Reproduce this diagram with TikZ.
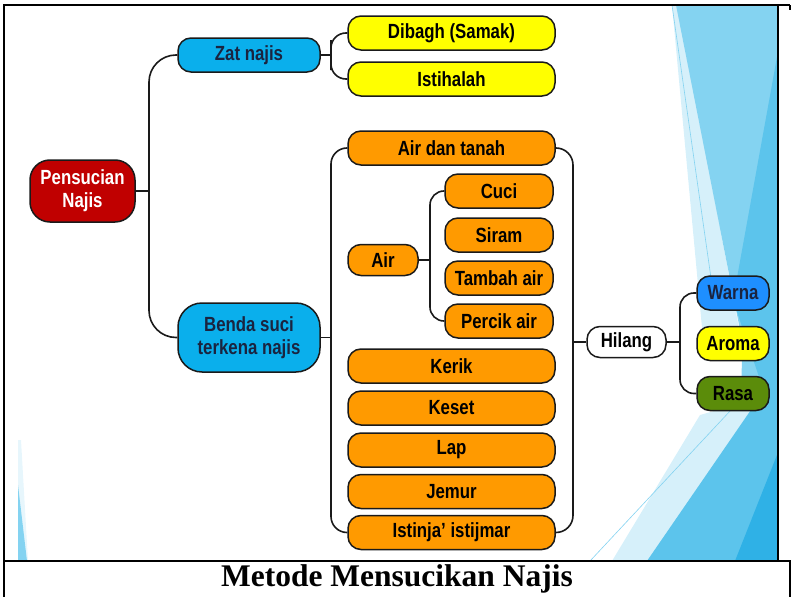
\documentclass[tikz,border=0pt]{standalone}
\usepackage{fontspec}
\usepackage{tikz}
\usetikzlibrary{calc}
\newfontfamily\mapfont[FakeStretch=0.82]{Liberation Sans}
\newfontfamily\capfont{Liberation Serif}
\definecolor{MapInk}{HTML}{1A1A1A}
\definecolor{MapNavy}{HTML}{1A2440}
\definecolor{MapRed}{HTML}{C00000}
\definecolor{MapSky}{HTML}{0AAFEC}
\definecolor{MapYellow}{HTML}{FFFF00}
\definecolor{MapOrange}{HTML}{FF9A00}
\definecolor{MapBlue}{HTML}{1E8FFF}
\definecolor{MapGreen}{HTML}{5B8C0A}
\definecolor{FacetPale}{HTML}{D6F0FA}
\definecolor{FacetLight}{HTML}{84D3F1}
\definecolor{FacetMid}{HTML}{5CC4EC}
\definecolor{FacetDeep}{HTML}{2FB1E6}
\tikzset{
  mapbox/.style={draw=MapInk, line width=1.5pt, rounded corners=13pt, inner sep=0pt,
    font=\mapfont\bfseries\fontsize{20.5}{23}\selectfont, text=black, align=center},
  rootbox/.style={mapbox, fill=MapRed, text=white, rounded corners=20pt},
  catbox/.style={mapbox, fill=MapSky, text=MapNavy},
  samakbox/.style={mapbox, fill=MapYellow, minimum width=207, minimum height=34},
  wayrow/.style={mapbox, fill=MapOrange, minimum width=207, minimum height=34},
  waysub/.style={mapbox, fill=MapOrange, minimum width=108, minimum height=34},
  tracebox/.style={mapbox, minimum width=72, minimum height=34},
  link/.style={draw=MapInk, line width=1.6pt},
  frameline/.style={draw=black, line width=1.6pt}
}
\begin{document}
\begin{tikzpicture}[x=1pt, y=-1pt]
\useasboundingbox (0,0) rectangle (796,597);
% background facets
\fill[FacetPale] (672,5) -- (678,5) -- (745,360) -- (705,360) -- cycle;
\fill[FacetLight] (676,5) -- (777,5) -- (777,561) -- (740,561) -- (742,340) -- cycle;
\fill[FacetMid] (777,57) -- (733,300) -- (777,430) -- cycle;
\fill[FacetPale] (700,415) -- (770,395) -- (660,561) -- (612,561) -- cycle;
\fill[FacetMid] (647,561) -- (777,561) -- (777,372) -- cycle;
\fill[FacetDeep] (735,561) -- (777,561) -- (777,455) -- cycle;
\draw[FacetLight, line width=0.6pt] (672,5) -- (712,285);
\draw[FacetLight, line width=0.6pt] (590,561) -- (745,395);
\fill[FacetPale!60] (18,440) -- (21,440) -- (28,561) -- (18,561) -- cycle;
\fill[FacetLight] (18,485) -- (27,561) -- (18,561) -- cycle;
% frame and caption
\draw[frameline] (790,5) -- (4,5) -- (4,597);
\draw[frameline] (778,5) -- (778,561);
\draw[frameline] (4,561) -- (790,561) -- (790,597);
\draw[frameline] (790,5) -- (790,10);
\node[font=\capfont\bfseries\fontsize{31.5}{36}\selectfont] (caption) at (397,579) {Metode Mensucikan Najis};
% nodes
\node[rootbox, minimum width=105, minimum height=62] (root) at (82.5,191) {Pensucian\\Najis};
\node[catbox, minimum width=142, minimum height=34] (zat) at (249,55) {Zat najis};
\node[catbox, minimum width=142, minimum height=69, rounded corners=24pt] (benda) at (249,337.5) {Benda suci\\terkena najis};
\node[samakbox] (dibagh) at (451.5,33) {Dibagh (Samak)};
\node[samakbox] (istihalah) at (451.5,79) {Istihalah};
\node[wayrow] (airtanah) at (451.5,148) {Air dan tanah};
\node[mapbox, fill=MapOrange, minimum width=70, minimum height=31] (air) at (383,260) {Air};
\node[waysub] (cuci) at (499,191) {Cuci};
\node[waysub] (siram) at (499,235) {Siram};
\node[waysub] (tambah) at (499,278) {Tambah air};
\node[waysub] (percik) at (499,321) {Percik air};
\node[wayrow] (kerik) at (451.5,366) {Kerik};
\node[wayrow] (keset) at (451.5,408) {Keset};
\node[wayrow] (lap) at (451.5,450) {Lap};
\node[wayrow] (jemur) at (451.5,491.5) {Jemur};
\node[wayrow] (istinja) at (451.5,532.5) {Istinja’ istijmar};
\node[mapbox, fill=white, minimum width=79, minimum height=31] (hilang) at (626.5,342) {Hilang};
\node[tracebox, fill=MapBlue, text=MapNavy] (warna) at (733,293) {Warna};
\node[tracebox, fill=MapYellow] (aroma) at (733,343.5) {Aroma};
\node[tracebox, fill=MapGreen] (rasa) at (733,393.5) {Rasa};
% connectors
\coordinate (rootjoin) at (149,191);
\coordinate (zatjoin) at (331,55);
\coordinate (bendajoin) at (331,337.5);
\coordinate (airjoin) at (430,260);
\coordinate (hilangjoin) at (573,342);
\coordinate (warnajoin) at (680,342);
\draw[link] (root.east) -- (rootjoin);
\draw[link, rounded corners=27pt] (zat.west) -| (rootjoin) |- (benda.west);
\draw[link] (zat.east) -- (zatjoin);
\draw[link, rounded corners=15pt] (dibagh.west) -| (zatjoin) |- (istihalah.west);
\draw[link] (benda.east) -- (bendajoin);
\draw[link, rounded corners=16pt] (airtanah.west) -| (bendajoin) |- (istinja.west);
\draw[link] (air.east) -- (airjoin);
\draw[link, rounded corners=14pt] (cuci.west) -| (airjoin) |- (percik.west);
\draw[link, rounded corners=17pt] (airtanah.east) -| (hilangjoin) |- (istinja.east);
\draw[link] (hilangjoin) -- (hilang.west);
\draw[link] (hilang.east) -- (warnajoin);
\draw[link, rounded corners=14pt] (warna.west) -| (warnajoin) |- (rasa.west);
\end{tikzpicture}
\end{document}
